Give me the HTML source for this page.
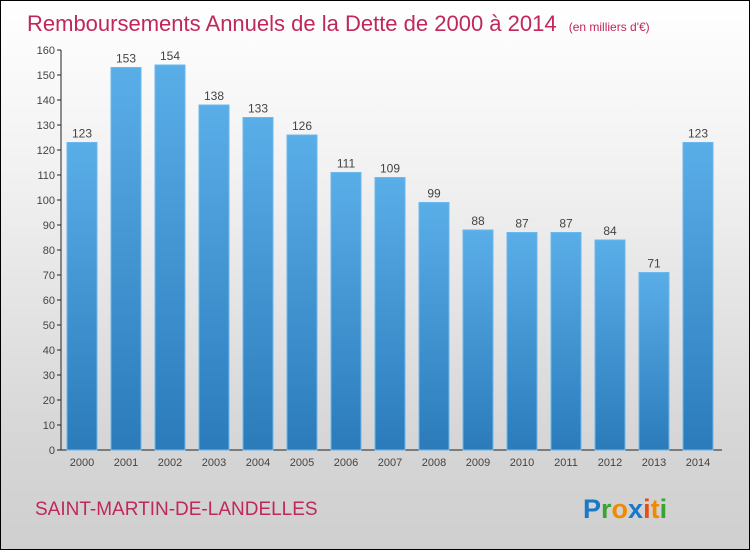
<!DOCTYPE html>
<html><head><meta charset="utf-8"><style>
body{margin:0}
#wrap{position:relative;width:748px;height:548px;border:1px solid #000;background:linear-gradient(#ffffff,#f2f2f2 30%,#d6d6d6 80%,#cfcfcf);font-family:"Liberation Sans",sans-serif;overflow:hidden}
</style></head><body>
<div id="wrap">
<svg width="748" height="548">
<text x="26" y="30" font-size="22" fill="#c0275a">Remboursements Annuels de la Dette de 2000 à 2014 <tspan font-size="12" dx="6">(en milliers d'€)</tspan></text>
<g id="axes"></g><g id="bars"></g>
<text x="34" y="514" font-size="19" fill="#c0275a">SAINT-MARTIN-DE-LANDELLES</text>
<text x="582" y="517" font-size="27" font-weight="bold"><tspan fill="#1a78c8">P</tspan><tspan fill="#3aa335">r</tspan><tspan fill="#f08a00">o</tspan><tspan fill="#1a78c8">x</tspan><tspan fill="#e84e10">i</tspan><tspan fill="#f08a00">t</tspan><tspan fill="#3aa335">i</tspan></text>
</svg></div>
<script>
const years=["2000","2001","2002","2003","2004","2005","2006","2007","2008","2009","2010","2011","2012","2013","2014"];
const values=[123,153,154,138,133,126,111,109,99,88,87,87,84,71,123];
const yTicks=[0,10,20,30,40,50,60,70,80,90,100,110,120,130,140,150,160];
const NS="http://www.w3.org/2000/svg";
const y=v=>449-v*2.5, x=i=>81+i*44;
const ax=document.getElementById('axes'), bg=document.getElementById('bars');
function mk(p,t,a){const e=document.createElementNS(NS,t);for(const k in a)e.setAttribute(k,a[k]);p.appendChild(e);return e;}
const defs=mk(ax,'defs',{});const g=mk(defs,'linearGradient',{id:'bg',x1:0,y1:0,x2:0,y2:1});
mk(g,'stop',{offset:0,'stop-color':'#5aaee8'});mk(g,'stop',{offset:1,'stop-color':'#2b7bbb'});
const yl=mk(ax,'line',{x1:60,y1:49,x2:60,y2:449,stroke:'#222'});

const xl=mk(ax,'line',{x1:60,y1:449,x2:721,y2:449,stroke:'#222'});

yTicks.forEach(t=>{mk(ax,'line',{x1:56,x2:60,y1:y(t),y2:y(t),stroke:'#222'});
const tx=mk(ax,'text',{x:54,y:y(t)+4,'font-size':11,fill:'#444','text-anchor':'end'});tx.textContent=t;
});
years.forEach((yr,i)=>{const v=values[i];
const r=mk(bg,'rect',{x:x(i)-15,y:y(v),width:30,height:449-y(v),fill:'url(#bg)',stroke:'#6bb8ee','stroke-width':1});

const l=mk(bg,'text',{x:x(i),y:y(v)-5,'font-size':12,fill:'#444','text-anchor':'middle'});l.textContent=v;

const t=mk(bg,'text',{x:x(i),y:465,'font-size':11,fill:'#444','text-anchor':'middle'});t.textContent=yr;
});
</script></body></html>
